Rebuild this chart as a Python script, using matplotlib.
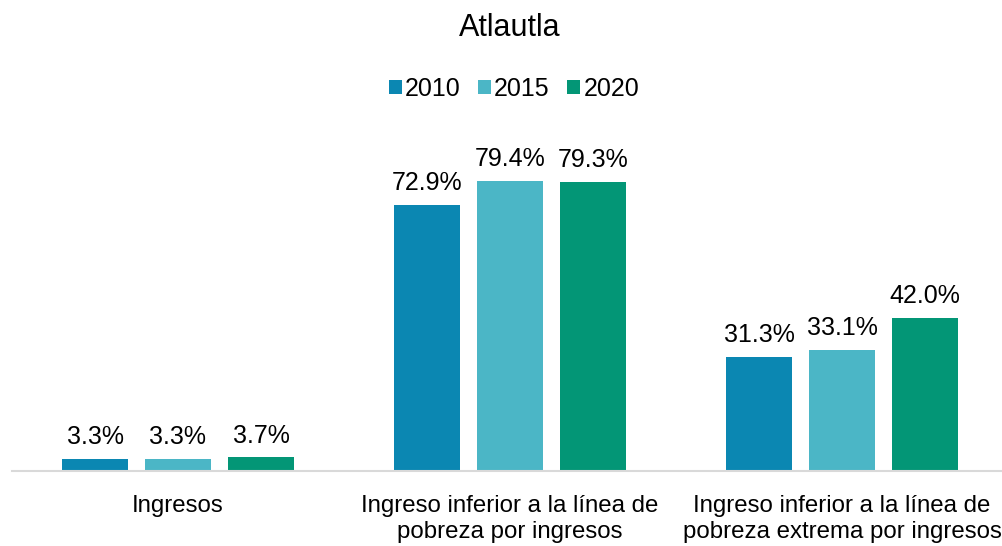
import matplotlib
matplotlib.use("Agg")
import matplotlib.pyplot as plt
import numpy as np

plt.rcParams['font.family'] = ['Liberation Sans', 'DejaVu Sans']

title = "Atlautla"
categories = [
    "Ingresos",
    "Ingreso inferior a la línea de\npobreza por ingresos",
    "Ingreso inferior a la línea de\npobreza extrema por ingresos",
]
years = ["2010", "2015", "2020"]
values_2010 = [3.3, 72.9, 31.3]
values_2015 = [3.3, 79.4, 33.1]
values_2020 = [3.7, 79.3, 42.0]
series = [values_2010, values_2015, values_2020]
colors = ["#0B87B2", "#4BB6C6", "#039676"]

W, H = 1003, 546
fig = plt.figure(figsize=(W / 100, H / 100), dpi=100)
ax = fig.add_axes([12 / W, 75 / H, 991 / W, 330 / H])

x = np.arange(len(categories))
pitch = 0.25
bar_w = 0.2
for i, (vals, yr, col) in enumerate(zip(series, years, colors)):
    pos = x + (i - 1) * pitch
    bars = ax.bar(pos, vals, width=bar_w, color=col, label=yr, zorder=2)
    for b, v in zip(bars, vals):
        ax.annotate(f"{v:.1f}%", (b.get_x() + b.get_width() / 2, v),
                    xytext=(0, 7), textcoords="offset points",
                    ha="center", va="bottom", fontsize=18, color="#000000")

ax.set_xlim(-0.5, 2.5 - 5 / 332)
ax.set_ylim(0, 330 / 3.65)
ax.set_xticks(x)
ax.set_xticklabels(categories, fontsize=17.3, linespacing=1.25)
ax.tick_params(axis="x", length=0, pad=17)
ax.set_yticks([])
for s in ["top", "right", "left"]:
    ax.spines[s].set_visible(False)
ax.spines["bottom"].set_color("#D9D9D9")
ax.spines["bottom"].set_linewidth(1.5)

fig.text(510 / W, 1 - 28 / H, title, ha="center", va="center", fontsize=22)
fig.legend(loc="center", bbox_to_anchor=(514 / W, 1 - 89 / H), ncol=3,
           frameon=False, fontsize=18, handlelength=0.52, handleheight=0.52,
           handletextpad=0.12, columnspacing=0.7)

fig.savefig("out.png", dpi=100)
